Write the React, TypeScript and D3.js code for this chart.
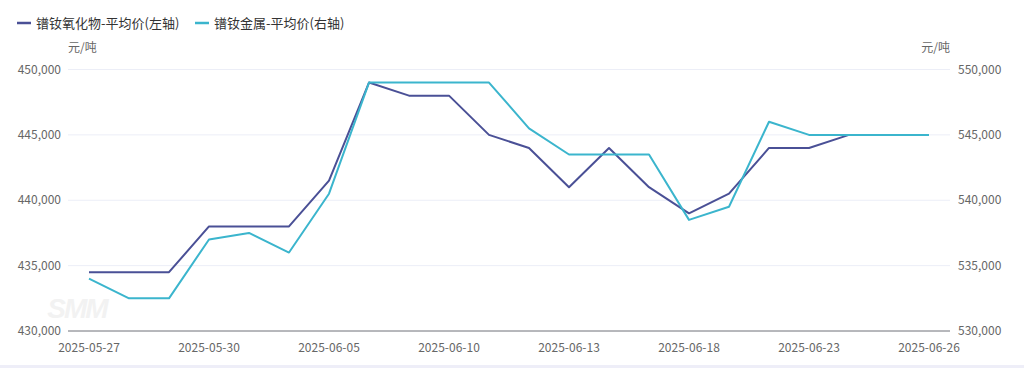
import React from "react";
import * as d3 from "d3";

const dates = [
  "2025-05-27", "2025-05-28", "2025-05-29", "2025-05-30", "2025-06-03", "2025-06-04",
  "2025-06-05", "2025-06-06", "2025-06-09", "2025-06-10", "2025-06-11", "2025-06-12",
  "2025-06-13", "2025-06-16", "2025-06-17", "2025-06-18", "2025-06-19", "2025-06-20",
  "2025-06-23", "2025-06-24", "2025-06-25", "2025-06-26",
];
const oxideValues = [
  434500, 434500, 434500, 438000, 438000, 438000, 441500, 449000, 448000, 448000, 445000,
  444000, 441000, 444000, 441000, 439000, 440500, 444000, 444000, 445000, 445000, 445000,
];
const metalValues = [
  534000, 532500, 532500, 537000, 537500, 536000, 540500, 549000, 549000, 549000, 549000,
  545500, 543500, 543500, 543500, 538500, 539500, 546000, 545000, 545000, 545000, 545000,
];
const leftTicks = [430000, 435000, 440000, 445000, 450000];
const rightTicks = [530000, 535000, 540000, 545000, 550000];
const labelDates = ["2025-05-27", "2025-05-30", "2025-06-05", "2025-06-10", "2025-06-13", "2025-06-18", "2025-06-23", "2025-06-26"];
const seriesNames = ["镨钕氧化物-平均价(左轴)", "镨钕金属-平均价(右轴)"];
const colors = ["#4a5096", "#3bb5cd"];

const W = 1024, H = 368;
const left = 69, right = 949, top = 69.5, bottom = 331;
const font = "'Microsoft YaHei', 'Noto Sans CJK SC', sans-serif";

export default function App() {
  const x = d3.scaleBand<string>().domain(dates).range([left, right]);
  const cx = (d: string) => (x(d) as number) + x.bandwidth() / 2;
  const yL = d3.scaleLinear().domain([430000, 450000]).range([bottom, top]);
  const yR = d3.scaleLinear().domain([530000, 550000]).range([bottom, top]);
  const fmt = d3.format(",");
  const lineL = d3.line<number>().x((_, i) => cx(dates[i])).y((v) => yL(v));
  const lineR = d3.line<number>().x((_, i) => cx(dates[i])).y((v) => yR(v));

  return (
    <svg width={W} height={H} style={{ position: "absolute", left: 0, top: 0, display: "block" }} fontFamily={font}>
      <rect x={0} y={0} width={W} height={H} fill="#fff" />
      <rect x={0} y={365} width={W} height={3} fill="#eeeef8" />
      {/* watermark */}
      <text x={77} y={318} textAnchor="middle" fontSize={28} fontWeight={900} fontStyle="italic" fill="#f2f2f2" fontFamily="'Liberation Sans', Arial, sans-serif" letterSpacing={-2}>SMM</text>
      {/* legend */}
      <g>
        <line x1={17} x2={31} y1={23} y2={23} stroke={colors[0]} strokeWidth={2.5} />
        <text x={36} y={27.5} fontSize={13} fill="#333">{seriesNames[0]}</text>
        <line x1={195} x2={209} y1={23} y2={23} stroke={colors[1]} strokeWidth={2.5} />
        <text x={214} y={27.5} fontSize={13} fill="#333">{seriesNames[1]}</text>
      </g>
      <text x={68} y={52} fontSize={12} fill="#666">元/吨</text>
      <text x={950} y={52} fontSize={12} fill="#666" textAnchor="end">元/吨</text>
      {/* grid */}
      {leftTicks.map((t) => (
        <line key={t} x1={left - 1} x2={right + 1} y1={yL(t)} y2={yL(t)} stroke={t === 430000 ? "#6e7079" : "#eceef7"} strokeWidth={1} />
      ))}
      {leftTicks.map((t) => (
        <text key={"l" + t} x={61} y={yL(t) + 4} textAnchor="end" fontSize={12} fill="#666">{fmt(t)}</text>
      ))}
      {rightTicks.map((t) => (
        <text key={"r" + t} x={958} y={yR(t) + 4} textAnchor="start" fontSize={12} fill="#666">{fmt(t)}</text>
      ))}
      {labelDates.map((d) => (
        <text key={d} x={cx(d)} y={352} textAnchor="middle" fontSize={12} fill="#666">{d}</text>
      ))}
      <path d={lineL(oxideValues) || ""} fill="none" stroke={colors[0]} strokeWidth={2} strokeLinejoin="round" />
      <path d={lineR(metalValues) || ""} fill="none" stroke={colors[1]} strokeWidth={2} strokeLinejoin="round" />
    </svg>
  );
}
